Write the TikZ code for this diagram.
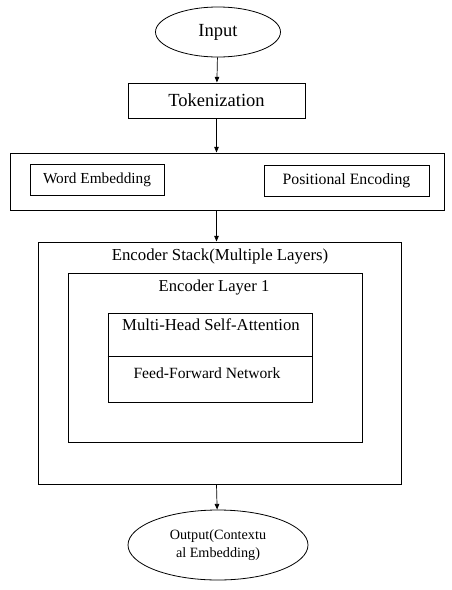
\documentclass[tikz,border=0pt]{standalone}
\usepackage{fontspec}
\setmainfont{Liberation Serif}
\usetikzlibrary{arrows.meta,positioning,shapes.geometric}
\tikzset{
  >={Triangle[length=2mm,width=1.6mm]},
  term/.style={draw,ellipse,line width=0.8pt,inner sep=0pt,align=center},
  blk/.style={draw,line width=1pt,inner sep=0pt},
  sub/.style={draw,line width=0.8pt,inner sep=0pt},
  ttl/.style={inner sep=0pt,anchor=mid},
  ptr/.style={->,line width=0.7pt},
}
\begin{document}
\begin{tikzpicture}[x=1pt,y=-1pt]
  \useasboundingbox (0,0) rectangle (451,590);
  \node[term,minimum width=125,minimum height=50,font=\fontsize{18.5}{20}\selectfont] (in) at (218,32) {Input};
  \node[blk,minimum width=177,minimum height=35,font=\fontsize{18.5}{20}\selectfont] (tok) at (216.5,100.5) {Tokenization};
  % embedding stage
  \node[blk,minimum width=434,minimum height=57] (emb) at (227,181.5) {};
  \node[sub,minimum width=134,minimum height=31,font=\fontsize{15.3}{17}\selectfont] (we) at (97,179.5) {Word Embedding};
  \node[sub,minimum width=165,minimum height=31,font=\fontsize{15.8}{17}\selectfont] (pe) at (346.5,180.5) {Positional Encoding};
  % encoder
  \node[blk,minimum width=363,minimum height=242] (stack) at (219.5,363) {};
  \node[ttl,font=\fontsize{16.8}{18}\selectfont] (stackt) at (220,258) {Encoder Stack(Multiple Layers)};
  \node[blk,minimum width=294,minimum height=169] (layer) at (215,357.5) {};
  \node[ttl,font=\fontsize{16.6}{18}\selectfont] (layert) at (214,289) {Encoder Layer 1};
  \node[blk,minimum width=204,minimum height=89] (att) at (210,357.5) {};
  \draw[line width=0.6pt] (att.west |- 0,356) coordinate (dl) -- (att.east |- dl);
  \node[ttl,font=\fontsize{16.7}{18}\selectfont] (mhsa) at (211,328) {Multi-Head Self-Attention};
  \node[ttl,font=\fontsize{15.6}{17}\selectfont] (ffn) at (207,376) {Feed-Forward Network};
  \node[term,minimum width=180,minimum height=70,font=\fontsize{14.2}{18}\selectfont] (out) at (218,545) {Output(Contextu\\al Embedding)};
  \draw[ptr] (in) -- (tok);
  \draw[ptr] (tok.south) -- (tok.south |- emb.north);
  \draw[ptr] (tok.south |- emb.south) -- (tok.south |- stack.north);
  \draw[ptr] (tok.south |- stack.south) -- (out);
\end{tikzpicture}
\end{document}
